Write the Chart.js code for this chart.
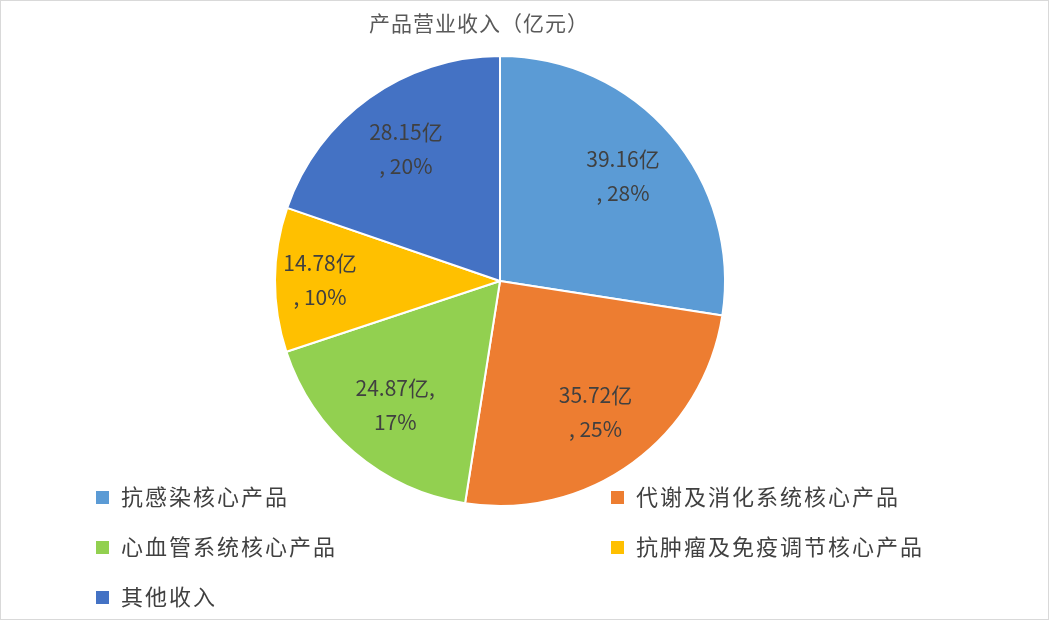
<!DOCTYPE html>
<html><head><meta charset="utf-8">
<script src="https://cdn.jsdelivr.net/npm/chart.js@4"></script>
<style>
body{margin:0;background:#fff;font-family:"Noto Sans CJK SC",sans-serif;}
#wrap{position:relative;width:1049px;height:620px;box-sizing:border-box;border:1px solid #d9d9d9;}
canvas{position:absolute;left:0;top:0;}
#title{position:absolute;top:6px;left:0;width:956px;text-align:center;font-size:21px;color:#595959;letter-spacing:1px;}
.lg{position:absolute;font-size:22px;color:#404040;letter-spacing:2px;}
.lg span{display:inline-block;width:13px;height:13px;margin-right:12px;vertical-align:1px;}
</style></head><body>
<div id="wrap">
<canvas id="c" width="1049" height="620"></canvas>
<div id="title">产品营业收入（亿元）</div>
<div id="legend"></div>
</div>
<script>
const categories=["抗感染核心产品","代谢及消化系统核心产品","心血管系统核心产品","抗肿瘤及免疫调节核心产品","其他收入"];
const values=[39.16,35.72,24.87,14.78,28.15];
const percents=["28%","25%","17%","10%","20%"];
const labelLines=[["39.16亿",", 28%"],["35.72亿",", 25%"],["24.87亿,","17%"],["14.78亿",", 10%"],["28.15亿",", 20%"]];
const colors=["#5B9BD5","#ED7D31","#92D050","#FFC000","#4472C4"];
const legendPos=[[95,480],[610,480],[95,530],[610,530],[95,580]];
const lg=document.getElementById('legend');
categories.forEach((c,i)=>{const d=document.createElement('div');d.className='lg';d.style.left=legendPos[i][0]+'px';d.style.top=(legendPos[i][1]-2)+'px';d.innerHTML='<span style="background:'+colors[i]+'"></span>'+c;lg.appendChild(d);});
const labels={id:'lbl',afterDatasetsDraw(ch){const ctx=ch.ctx;const meta=ch.getDatasetMeta(0);ctx.save();ctx.font='21px "Noto Sans CJK SC"';ctx.fillStyle='#404040';ctx.textAlign='center';ctx.textBaseline='middle';
meta.data.forEach((a,i)=>{const m=(a.startAngle+a.endAngle)/2;const r=a.outerRadius*(i==3?0.8:0.72);const x=a.x+Math.cos(m)*r,y=a.y+Math.sin(m)*r;ctx.fillText(labelLines[i][0],x,y-17);ctx.fillText(labelLines[i][1],x,y+17);});ctx.restore();}};
new Chart(document.getElementById('c'),{type:'pie',data:{labels:categories,datasets:[{data:values,backgroundColor:colors,borderColor:'#fff',borderWidth:2}]},
options:{responsive:false,animation:false,layout:{padding:{top:54,bottom:114,left:273,right:324}},plugins:{legend:{display:false},tooltip:{enabled:false}}},plugins:[labels]});
</script></body></html>
